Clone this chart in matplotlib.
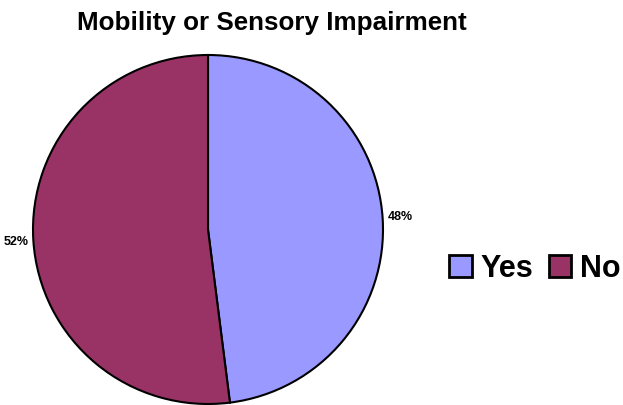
import matplotlib.pyplot as plt

labels = ['Yes', 'No']
values = [48, 52]
colors = ['#9999FF', '#993366']

plt.rcParams['font.family'] = ['Liberation Sans', 'DejaVu Sans']

fig = plt.figure(figsize=(6.23, 4.05), dpi=100)
# pie box in pixels: x 33..383, y 55..404
ax = fig.add_axes([33 / 623, 1 / 405, 350 / 623, 349 / 405])
wedges, texts, autotexts = ax.pie(values, colors=colors, startangle=90, counterclock=False,
                                  autopct='%1.0f%%', pctdistance=1.1,
                                  wedgeprops=dict(edgecolor='black', linewidth=1.5),
                                  textprops=dict(fontsize=9, fontweight='bold'))
ax.set_xlim(-1, 1)
ax.set_ylim(-1, 1)
ax.set_aspect('auto')

fig.text(272 / 623, 1 - 23 / 405, 'Mobility or Sensory Impairment', ha='center', va='center',
         fontsize=18.7, fontweight='bold')

leg = fig.legend(wedges, labels, loc='center left', bbox_to_anchor=(434 / 623, 1 - 269 / 405),
                 ncol=2, frameon=False, prop=dict(size=22, weight='bold'), borderpad=0,
                 handlelength=0.73, handleheight=0.73, handletextpad=0.3, columnspacing=0.5)
for h in leg.legend_handles:
    h.set_linewidth(2)

fig.savefig('out.png', dpi=100)
